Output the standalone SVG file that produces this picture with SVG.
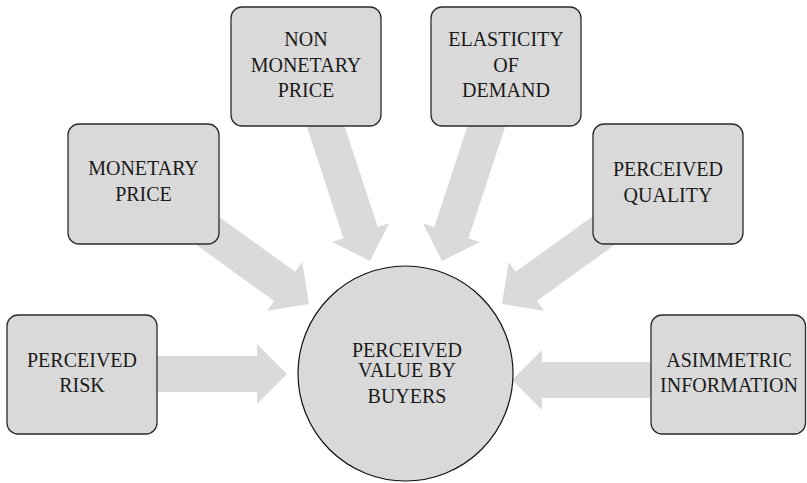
<svg xmlns="http://www.w3.org/2000/svg" width="807" height="483" viewBox="0 0 807 483">
<style>
.box{fill:#d9d9d9;stroke:#2b2b2b;stroke-width:1.3}
.hub{fill:#d9d9d9;stroke:#111;stroke-width:1.2}
.arrow{fill:#dadada;stroke:none}
.t{font-family:"Liberation Serif","DejaVu Serif","Times New Roman",serif;font-size:20px;fill:#1a1a1a;text-anchor:middle}
</style>
<defs>
<path id="arr" d="M0,0 L-30,-30 L-30,-18 L-205,-18 L-205,18 L-30,18 L-30,30 Z"/>
</defs>
<rect width="807" height="483" fill="#fff"/>
<g id="connectors" class="arrow">
<use href="#arr" transform="translate(287,374)"/>
<use href="#arr" transform="translate(309,304) rotate(35.86)"/>
<use href="#arr" transform="translate(370,261) rotate(71.79)"/>
<use href="#arr" transform="translate(442,261) rotate(108.21)"/>
<use href="#arr" transform="translate(502,304) rotate(144.14)"/>
<use href="#arr" transform="translate(512,380) rotate(180)"/>
</g>
<g id="risk">
<rect class="box" x="7" y="315" width="150" height="119" rx="11"/>
<text class="t" x="82" y="367">PERCEIVED</text>
<text class="t" x="82" y="392">RISK</text>
</g>
<g id="monetary">
<rect class="box" x="68" y="124" width="151" height="120" rx="11"/>
<text class="t" x="143.5" y="175">MONETARY</text>
<text class="t" x="143.5" y="201">PRICE</text>
</g>
<g id="nonmonetary">
<rect class="box" x="231" y="7" width="150" height="119" rx="11"/>
<text class="t" x="306" y="46">NON</text>
<text class="t" x="306" y="72">MONETARY</text>
<text class="t" x="306" y="97">PRICE</text>
</g>
<g id="elasticity">
<rect class="box" x="431" y="7" width="150" height="119" rx="11"/>
<text class="t" x="506" y="46">ELASTICITY</text>
<text class="t" x="506" y="72">OF</text>
<text class="t" x="506" y="97">DEMAND</text>
</g>
<g id="quality">
<rect class="box" x="593" y="124" width="150" height="120" rx="11"/>
<text class="t" x="668" y="176">PERCEIVED</text>
<text class="t" x="668" y="202">QUALITY</text>
</g>
<g id="asimmetric">
<rect class="box" x="651" y="315" width="154.5" height="119" rx="11"/>
<text class="t" x="729" y="367">ASIMMETRIC</text>
<text class="t" x="729" y="392">INFORMATION</text>
</g>
<g id="value">
<circle class="hub" cx="405.5" cy="373.5" r="107.5"/>
<text class="t" x="407" y="357">PERCEIVED</text>
<text class="t" x="407" y="377">VALUE BY</text>
<text class="t" x="407" y="403">BUYERS</text>
</g>
</svg>
